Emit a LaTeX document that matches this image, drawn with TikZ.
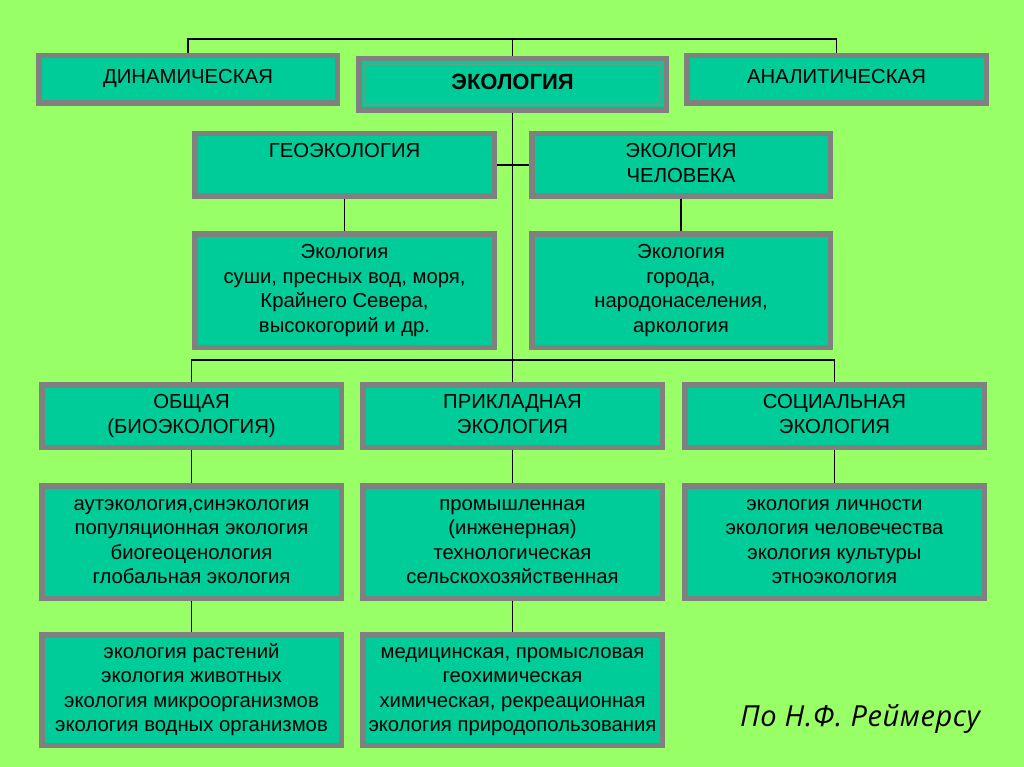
\documentclass[tikz,border=0pt]{standalone}
\usepackage{fontspec}
\setmainfont{Liberation Sans}
\newfontfamily\reimfont[LetterSpace=2]{Open Sans}
\definecolor{bggreen}{HTML}{99FF66}
\definecolor{boxfill}{HTML}{00CC99}
\definecolor{boxline}{HTML}{808080}
\definecolor{innerline}{HTML}{5FA58A}
\tikzset{
  ebox/.style={draw=boxline, fill=boxfill, line width=5.5pt, inner sep=0pt,
    align=center, text=black, font=\fontsize{20.3}{24.6}\selectfont},
  conn/.style={draw=black, line width=1.3pt},
  srctext/.style={font=\reimfont\itshape\fontsize{29}{32}\selectfont, anchor=base, inner sep=0pt}
}
\newcommand\mkbox[7][]{%
  \node[ebox,minimum width={(#5-#3-5.5)*1pt},minimum height={(#6-#4-5.5)*1pt},#1]
    (#2) at ({(#3+#5)/2},{(#4+#6)/2}) {\strut#7\strut};}
\begin{document}
\begin{tikzpicture}[x=1pt,y=-1pt]
\useasboundingbox (0,0) rectangle (1024,767);
\fill[bggreen] (0,0) rectangle (1024,767);
% top row
\mkbox[text depth=10pt]{din}{36}{53}{340}{106}{ДИНАМИЧЕСКАЯ}
\mkbox[font=\bfseries\fontsize{22}{24}\selectfont]{eco}{356}{56}{669}{113}{ЭКОЛОГИЯ}
\mkbox[text depth=10pt]{anal}{684}{53}{989}{106}{АНАЛИТИЧЕСКАЯ}
\draw[innerline, line width=1.3pt] ([shift={(8.5,8.5)}]eco.north west) rectangle ([shift={(-8.5,-8.5)}]eco.south east);
% second row
\mkbox{geo}{192}{131}{497}{199}{ГЕОЭКОЛОГИЯ\\}
\mkbox{cel}{529}{131}{833}{199}{ЭКОЛОГИЯ\\ЧЕЛОВЕКА}
% third row
\mkbox{geod}{192}{231}{497}{350}{Экология\\суши, пресных вод, моря,\\Крайнего Севера,\\высокогорий и др.}
\mkbox{celd}{529}{231}{833}{350}{Экология\\города,\\народонаселения,\\аркология}
% fourth row
\mkbox{obs}{39}{382}{344}{450}{ОБЩАЯ\\(БИОЭКОЛОГИЯ)}
\mkbox{prik}{360}{382}{665}{450}{ПРИКЛАДНАЯ\\ЭКОЛОГИЯ}
\mkbox{soc}{682}{382}{987}{450}{СОЦИАЛЬНАЯ\\ЭКОЛОГИЯ}
% fifth row
\mkbox{aut}{39}{483}{344}{601}{аутэкология,синэкология\\популяционная экология\\биогеоценология\\глобальная экология}
\mkbox{prom}{360}{483}{665}{601}{промышленная\\(инженерная)\\технологическая\\сельскохозяйственная}
\mkbox{lich}{682}{483}{987}{601}{экология личности\\экология человечества\\экология культуры\\этноэкология}
% sixth row
\mkbox{rast}{39}{632}{344}{748}{экология растений\\экология животных\\экология микроорганизмов\\экология водных организмов}
\mkbox{med}{360}{632}{665}{748}{медицинская, промысловая\\геохимическая\\химическая, рекреационная\\экология природопользования}
% source
\node[srctext] (src) at (860,726) {По Н.Ф. Реймерсу};
% connectors
\coordinate (t) at (512.5,39);
\coordinate (m) at (512.5,360);
\draw[conn] (din.north) |- (t) -| (anal.north);
\draw[conn] (eco.north) -- (t);
\draw[conn] (eco.south) -- (m);
\draw[conn] (geo.east) -- (cel.west);
\draw[conn] (geo.south) -- (geod.north);
\draw[conn] (cel.south) -- (celd.north);
\draw[conn] (obs.north) |- (m) -| (soc.north);
\draw[conn] (prik.north) -- (m);
\draw[conn] (obs.south) -- (aut.north);
\draw[conn] (aut.south) -- (rast.north);
\draw[conn] (prik.south) -- (prom.north);
\draw[conn] (prom.south) -- (med.north);
\draw[conn] (soc.south) -- (lich.north);
\end{tikzpicture}
\end{document}
